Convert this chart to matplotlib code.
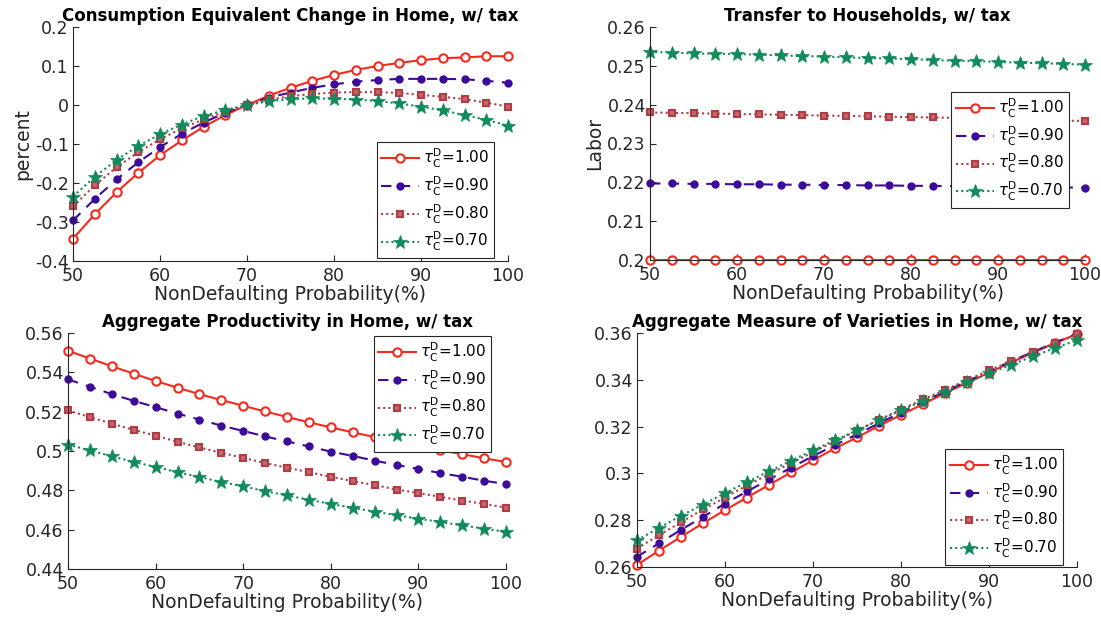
import numpy as np
import matplotlib
matplotlib.use("Agg")
import matplotlib.pyplot as plt

plt.rcParams['font.family'] = ['DejaVu Sans']
plt.rcParams['mathtext.fontset'] = 'dejavusans'

# non-defaulting probability (%)
prob = [50, 52.5, 55, 57.5, 60, 62.5, 65, 67.5, 70, 72.5, 75,
        77.5, 80, 82.5, 85, 87.5, 90, 92.5, 95, 97.5, 100]

tau_labels = ['1.00', '0.90', '0.80', '0.70']

# consumption equivalent change (percent)
ce_100 = [-0.343, -0.280, -0.224, -0.174, -0.129, -0.091, -0.056, -0.026, 0.000, 0.024, 0.044,
          0.062, 0.077, 0.090, 0.100, 0.108, 0.115, 0.120, 0.122, 0.125, 0.125]
ce_090 = [-0.296, -0.241, -0.191, -0.147, -0.108, -0.074, -0.045, -0.020, 0.000, 0.019, 0.032,
          0.044, 0.053, 0.060, 0.064, 0.067, 0.067, 0.067, 0.066, 0.062, 0.057]
ce_080 = [-0.260, -0.206, -0.160, -0.121, -0.088, -0.060, -0.037, -0.017, 0.000, 0.013, 0.023,
          0.028, 0.032, 0.033, 0.033, 0.031, 0.026, 0.021, 0.015, 0.006, -0.004]
ce_070 = [-0.235, -0.184, -0.141, -0.105, -0.075, -0.050, -0.028, -0.013, 0.000, 0.010, 0.015,
          0.017, 0.016, 0.014, 0.010, 0.004, -0.004, -0.014, -0.026, -0.038, -0.053]

# transfer to households
tr_100 = [0.2000] * 21
tr_090 = [0.2197, 0.2197, 0.2196, 0.2196, 0.2195, 0.2195, 0.2194, 0.2194, 0.2193, 0.2193, 0.2192,
          0.2192, 0.2191, 0.2191, 0.2190, 0.2190, 0.2189, 0.2189, 0.2188, 0.2187, 0.2186]
tr_080 = [0.2380, 0.2379, 0.2378, 0.2377, 0.2376, 0.2375, 0.2374, 0.2373, 0.2372, 0.2371, 0.2370,
          0.2369, 0.2368, 0.2367, 0.2366, 0.2365, 0.2364, 0.2363, 0.2361, 0.2359, 0.2358]
tr_070 = [0.2536, 0.2534, 0.2532, 0.2531, 0.2530, 0.2529, 0.2527, 0.2525, 0.2524, 0.2522, 0.2520,
          0.2519, 0.2517, 0.2515, 0.2513, 0.2512, 0.2510, 0.2508, 0.2507, 0.2505, 0.2503]

# aggregate productivity
ap_100 = [0.5510, 0.5470, 0.5431, 0.5393, 0.5356, 0.5322, 0.5289, 0.5259, 0.5230, 0.5201, 0.5173,
          0.5146, 0.5120, 0.5095, 0.5071, 0.5049, 0.5026, 0.5004, 0.4984, 0.4963, 0.4944]
ap_090 = [0.5364, 0.5327, 0.5289, 0.5255, 0.5223, 0.5190, 0.5160, 0.5129, 0.5102, 0.5074, 0.5049,
          0.5023, 0.4997, 0.4975, 0.4951, 0.4929, 0.4909, 0.4888, 0.4869, 0.4849, 0.4832]
ap_080 = [0.5207, 0.5172, 0.5139, 0.5107, 0.5078, 0.5047, 0.5018, 0.4991, 0.4965, 0.4939, 0.4915,
          0.4892, 0.4869, 0.4847, 0.4827, 0.4804, 0.4786, 0.4767, 0.4748, 0.4731, 0.4712]
ap_070 = [0.5033, 0.5003, 0.4973, 0.4944, 0.4919, 0.4892, 0.4868, 0.4842, 0.4820, 0.4796, 0.4774,
          0.4752, 0.4731, 0.4711, 0.4692, 0.4673, 0.4656, 0.4639, 0.4622, 0.4605, 0.4589]

# aggregate measure of varieties
mv_100 = [0.2609, 0.2670, 0.2729, 0.2787, 0.2843, 0.2897, 0.2951, 0.3004, 0.3056, 0.3107, 0.3154,
          0.3203, 0.3250, 0.3296, 0.3343, 0.3387, 0.3431, 0.3474, 0.3516, 0.3557, 0.3596]
mv_090 = [0.2644, 0.2701, 0.2759, 0.2814, 0.2871, 0.2923, 0.2974, 0.3024, 0.3074, 0.3121, 0.3167,
          0.3214, 0.3260, 0.3306, 0.3350, 0.3393, 0.3436, 0.3479, 0.3519, 0.3559, 0.3597]
mv_080 = [0.2679, 0.2736, 0.2791, 0.2846, 0.2897, 0.2949, 0.2996, 0.3044, 0.3091, 0.3137, 0.3183,
          0.3229, 0.3273, 0.3316, 0.3357, 0.3399, 0.3440, 0.3480, 0.3519, 0.3557, 0.3594]
mv_070 = [0.2714, 0.2767, 0.2819, 0.2867, 0.2916, 0.2963, 0.3009, 0.3054, 0.3099, 0.3141, 0.3184,
          0.3227, 0.3270, 0.3310, 0.3350, 0.3389, 0.3427, 0.3464, 0.3500, 0.3536, 0.3569]

styles = [
    dict(color='#f52a1e', ls='-', marker='o', ms=6, mfc='white', mew=1.5, lw=1.5),
    dict(color='#3d0b99', ls=(0, (5, 4)), marker='o', ms=5, mfc='#3d0b99', mew=1, lw=1.5),
    dict(color='#b33b43', ls=(0, (1, 1.5)), marker='s', ms=5, mfc='#c0686d', mew=1.5, lw=1.5),
    dict(color='#118a5c', ls=(0, (1, 1.5)), marker='*', ms=10, mfc='#118a5c', mew=0.5, lw=1.5),
]

fig = plt.figure(figsize=(11.01, 6.17), dpi=100)

panels = [
    ([73 / 1101, 1 - 261 / 617, 435 / 1101, 234 / 617],
     [ce_100, ce_090, ce_080, ce_070],
     'Consumption Equivalent Change in Home, w/ tax', 'percent',
     (-0.4, 0.2), np.arange(-0.4, 0.21, 0.1), 'lower right', (0.968, 0.013)),
    ([650 / 1101, 1 - 260 / 617, 435 / 1101, 233 / 617],
     [tr_100, tr_090, tr_080, tr_070],
     'Transfer to Households, w/ tax', 'Labor',
     (0.2, 0.26), np.arange(0.2, 0.261, 0.01), 'upper right', (0.963, 0.721)),
    ([68 / 1101, 1 - 569 / 617, 438 / 1101, 236 / 617],
     [ap_100, ap_090, ap_080, ap_070],
     'Aggregate Productivity in Home, w/ tax', None,
     (0.44, 0.56), np.arange(0.44, 0.561, 0.02), 'upper right', (0.966, 0.987)),
    ([637 / 1101, 1 - 567 / 617, 440 / 1101, 234 / 617],
     [mv_100, mv_090, mv_080, mv_070],
     'Aggregate Measure of Varieties in Home, w/ tax', None,
     (0.26, 0.36), np.arange(0.26, 0.361, 0.02), 'lower right', (0.968, 0.01)),
]

for rect, series, title, ylab, ylim, yticks, loc, anchor in panels:
    ax = fig.add_axes(rect)
    for ys, lab, st in zip(series, tau_labels, styles):
        ax.plot(prob, ys, label=r'$\tau_{\rm C}^{\rm D}$=' + lab, clip_on=False, **st)
    ax.set_xlim(50, 100)
    ax.set_ylim(*ylim)
    ax.set_yticks(yticks)
    ax.set_yticklabels(['%g' % (round(v, 2) + 0.0) for v in yticks])
    ax.set_xticks([50, 60, 70, 80, 90, 100])
    ax.spines['top'].set_visible(False)
    ax.spines['right'].set_visible(False)
    for s in ['left', 'bottom']:
        ax.spines[s].set_color('#262626')
        ax.spines[s].set_linewidth(0.8)
    ax.tick_params(direction='in', length=4, width=0.8, colors='#262626',
                   labelsize=12.5, labelcolor='#262626')
    ax.tick_params(axis='y', pad=3)
    ax.tick_params(axis='x', pad=4)
    ax.set_title(title, fontsize=12, fontweight='bold', pad=4)
    ax.set_xlabel('NonDefaulting Probability(%)', fontsize=13.5, color='#262626', labelpad=0)
    if ylab:
        ax.set_ylabel(ylab, fontsize=13.5, color='#262626', labelpad=2)
    leg = ax.legend(loc=loc, bbox_to_anchor=anchor, fontsize=11, fancybox=False,
                    edgecolor='#262626', handlelength=2.5, handletextpad=0.25,
                    borderpad=0.3, labelspacing=0.3, borderaxespad=0, framealpha=1)
    leg.get_frame().set_linewidth(0.8)

fig.savefig('out.png', dpi=100)
